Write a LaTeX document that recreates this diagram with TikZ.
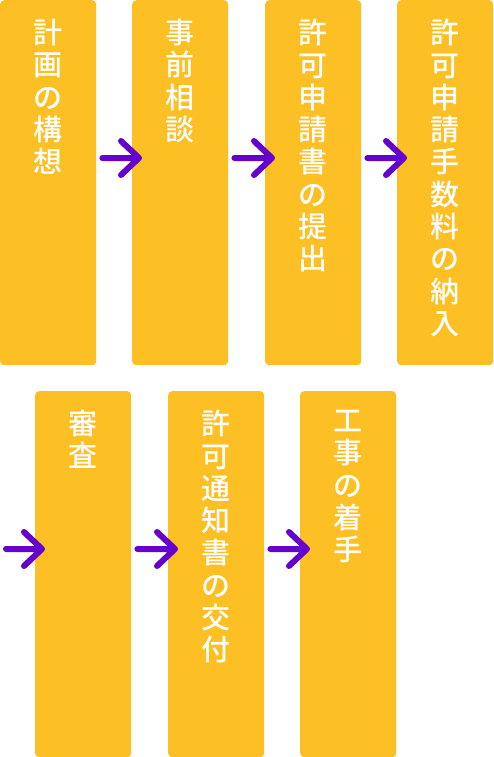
\documentclass[tikz,border=0pt]{standalone}
\usepackage{fontspec}
\newfontfamily\cjk{Noto Sans CJK JP Medium}
\usetikzlibrary{calc}
\definecolor{boxyellow}{RGB}{252,191,36}
\definecolor{arrowpurple}{RGB}{102,0,204}
\tikzset{
  stepbox/.style={fill=boxyellow, rounded corners=4pt, draw=none, minimum width=96pt, minimum height=365pt, inner sep=0pt, anchor=north west},
  steptext/.style={text=white, font=\cjk\fontsize{29}{32.3}\selectfont, align=center, inner sep=0pt, anchor=north},
  flowarrow/.style={draw=arrowpurple, line width=6pt, line cap=round, line join=round}
}
\begin{document}
\begin{tikzpicture}[x=1pt,y=-1pt]
\useasboundingbox (0,0) rectangle (493,757);
% row 1
\node[stepbox] (b1) at (0,0) {};
\node[stepbox] (b2) at (132,0) {};
\node[stepbox] (b3) at (265,0) {};
\node[stepbox] (b4) at (397,0) {};
% row 2
\node[stepbox, minimum height=366pt] (b5) at (35,391) {};
\node[stepbox, minimum height=366pt] (b6) at (168,391) {};
\node[stepbox, minimum height=366pt] (b7) at (300,391) {};
% texts
\node[steptext] (t1) at ($(b1.north)+(0,19)$) {計\\画\\の\\構\\想};
\node[steptext] (t2) at ($(b2.north)+(0,19)$) {事\\前\\相\\談};
\node[steptext] (t3) at ($(b3.north)+(0,19)$) {許\\可\\申\\請\\書\\の\\提\\出};
\node[steptext] (t4) at ($(b4.north)+(0,19)$) {許\\可\\申\\請\\手\\数\\料\\の\\納\\入};
\node[steptext] (t5) at ($(b5.north)+(0,19)$) {審\\査};
\node[steptext] (t6) at ($(b6.north)+(0,19)$) {許\\可\\通\\知\\書\\の\\交\\付};
\node[steptext] (t7) at ($(b7.north)+(0,19)$) {工\\事\\の\\着\\手};
% arrow end coordinates
\coordinate (a0s) at (6,549);
\coordinate (a1s) at ($(b1.north east)+(6,158)$);
\coordinate (a1t) at ($(b2.north west)+(7,158)$);
\coordinate (a2s) at ($(b2.north east)+(6,158)$);
\coordinate (a2t) at ($(b3.north west)+(7,158)$);
\coordinate (a3s) at ($(b3.north east)+(6,158)$);
\coordinate (a3t) at ($(b4.north west)+(7,158)$);
\coordinate (a4t) at ($(b5.north west)+(7,158)$);
\coordinate (a5s) at ($(b5.north east)+(6,158)$);
\coordinate (a5t) at ($(b6.north west)+(7,158)$);
\coordinate (a6s) at ($(b6.north east)+(6,158)$);
\coordinate (a6t) at ($(b7.north west)+(7,158)$);
\foreach \s/\t in {a1s/a1t, a2s/a2t, a3s/a3t, a0s/a4t, a5s/a5t, a6s/a6t}{
  \draw[flowarrow] (\s) -- (\t) ($(\t)+(-18,-17)$) -- (\t) -- ($(\t)+(-18,17)$);
}
\end{tikzpicture}
\end{document}
